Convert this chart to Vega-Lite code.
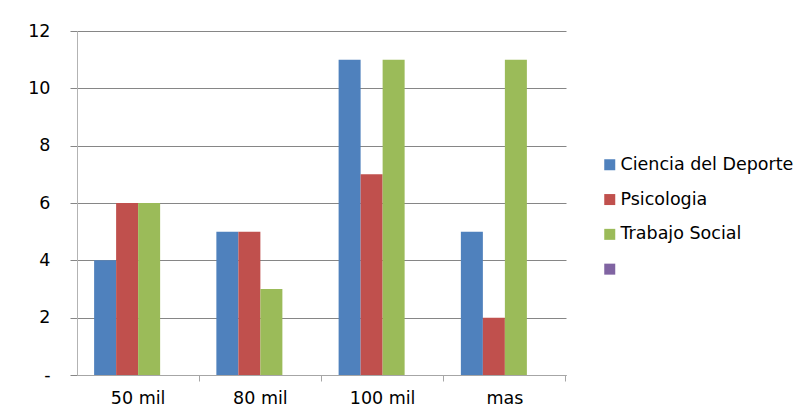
{
  "$schema": "https://vega.github.io/schema/vega-lite/v6.json",
  "width": 489,
  "height": 344,
  "autosize": {"type": "none"},
  "padding": {"left": 77, "top": 31, "right": 246, "bottom": 43},
  "background": "white",
  "config": {"view": {"stroke": null}, "font": "DejaVu Sans"},
  "data": {
    "values": [
      {"rango": "50 mil", "serie": "Ciencia del Deporte", "valor": 4},
      {"rango": "50 mil", "serie": "Psicologia", "valor": 6},
      {"rango": "50 mil", "serie": "Trabajo Social", "valor": 6},
      {"rango": "80 mil", "serie": "Ciencia del Deporte", "valor": 5},
      {"rango": "80 mil", "serie": "Psicologia", "valor": 5},
      {"rango": "80 mil", "serie": "Trabajo Social", "valor": 3},
      {"rango": "100 mil", "serie": "Ciencia del Deporte", "valor": 11},
      {"rango": "100 mil", "serie": "Psicologia", "valor": 7},
      {"rango": "100 mil", "serie": "Trabajo Social", "valor": 11},
      {"rango": "mas", "serie": "Ciencia del Deporte", "valor": 5},
      {"rango": "mas", "serie": "Psicologia", "valor": 2},
      {"rango": "mas", "serie": "Trabajo Social", "valor": 11}
    ]
  },
  "mark": {"type": "bar"},
  "encoding": {
    "x": {
      "field": "rango",
      "type": "nominal",
      "sort": ["50 mil", "80 mil", "100 mil", "mas"],
      "scale": {"paddingInner": 0.28, "paddingOuter": 0.14},
      "axis": {
        "title": null,
        "labelAngle": 0,
        "labelFontSize": 17.5,
        "labelColor": "#000000",
        "labelPadding": 8,
        "domainColor": "#a6a6a6",
        "tickColor": "#a6a6a6",
        "tickSize": 6,
        "bandPosition": 1.194,
        "grid": false
      }
    },
    "xOffset": {
      "field": "serie",
      "type": "nominal",
      "scale": {
        "domain": ["Ciencia del Deporte", "Psicologia", "Trabajo Social", " "],
        "paddingInner": 0,
        "paddingOuter": 0
      }
    },
    "y": {
      "field": "valor",
      "type": "quantitative",
      "scale": {"domain": [0, 12], "nice": false},
      "axis": {
        "title": null,
        "values": [0, 2, 4, 6, 8, 10, 12],
        "labelExpr": "datum.value === 0 ? '-\u2007' : datum.label",
        "labelFontSize": 17.5,
        "labelColor": "#000000",
        "labelPadding": 20,
        "gridColor": "#868686",
        "domainColor": "#b3b3b3",
        "tickColor": "#868686",
        "tickSize": 7
      }
    },
    "color": {
      "field": "serie",
      "type": "nominal",
      "scale": {
        "domain": ["Ciencia del Deporte", "Psicologia", "Trabajo Social", " "],
        "range": ["#4F81BD", "#C0504D", "#9BBB59", "#8064A2"]
      },
      "legend": {
        "title": null,
        "orient": "none",
        "legendX": 524,
        "legendY": 125,
        "symbolType": "square",
        "symbolSize": 121,
        "symbolStrokeWidth": 0,
        "labelFontSize": 17.5,
        "labelColor": "#000000",
        "labelLimit": 0,
        "labelOffset": 2,
        "rowPadding": 15.8
      }
    }
  }
}
